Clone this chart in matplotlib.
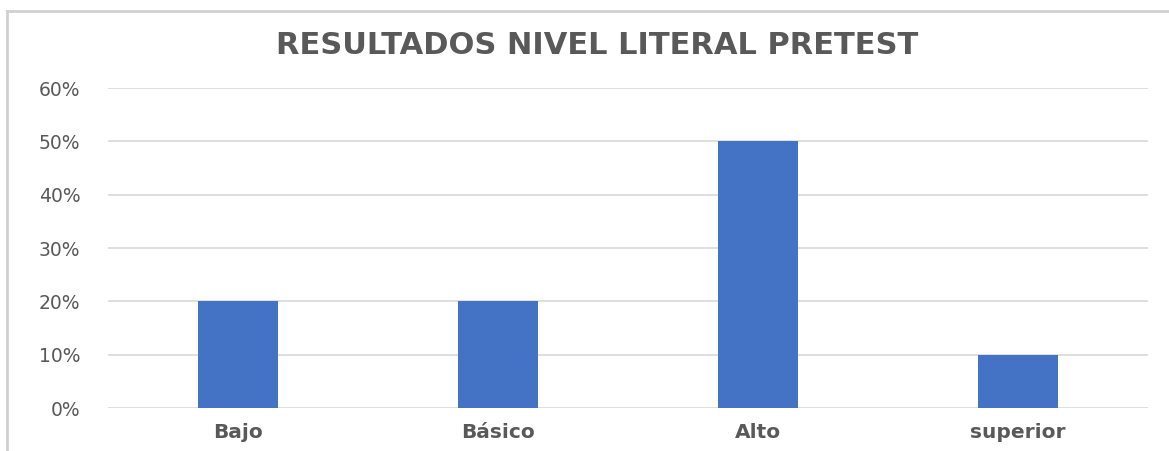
import matplotlib

matplotlib.use("Agg")
import matplotlib.pyplot as plt
from matplotlib.lines import Line2D
from matplotlib.ticker import FuncFormatter

categories = ["Bajo", "Básico", "Alto", "superior"]
values = [0.20, 0.20, 0.50, 0.10]
yticks = [0.0, 0.1, 0.2, 0.3, 0.4, 0.5, 0.6]

BAR_COLOR = "#4472C4"
TEXT_COLOR = "#595959"
GRID_COLOR = "#D9D9D9"

plt.rcParams["font.family"] = ["DejaVu Sans"]

W, H = 1169, 451
fig = plt.figure(figsize=(W / 100, H / 100), dpi=100)

# chart border (only top and left edges visible in the source)
fig.add_artist(Line2D([7 / W, 7 / W], [0, 1 - 11 / H], color="#D0D0D0", lw=2))
fig.add_artist(Line2D([7 / W, 1], [1 - 11 / H, 1 - 11 / H], color="#D0D0D0", lw=2))

ax = fig.add_axes([108 / W, 43 / H, 1040 / W, 320 / H])
x = range(len(categories))
ax.bar(x, values, width=0.31, color=BAR_COLOR, zorder=3)

ax.set_xlim(-0.5, len(categories) - 0.5)
ax.set_ylim(0, 0.6)
ax.set_yticks(yticks)
ax.yaxis.set_major_formatter(FuncFormatter(lambda v, _: f"{v * 100:.0f}%"))
ax.set_xticks(list(x))
ax.set_xticklabels(categories, fontsize=14.5, fontweight="bold", color=TEXT_COLOR)
ax.tick_params(axis="y", labelsize=13.5, labelcolor=TEXT_COLOR, length=0, pad=20)
ax.tick_params(axis="x", length=0, pad=11)
ax.grid(axis="y", color=GRID_COLOR, lw=1.2, zorder=0)
for s in ax.spines.values():
    s.set_visible(False)

fig.text(597 / W, 1 - 46 / H, "RESULTADOS NIVEL LITERAL PRETEST", ha="center",
         va="center", fontsize=22, fontweight="bold", color=TEXT_COLOR)

fig.savefig("out.png", dpi=100)
